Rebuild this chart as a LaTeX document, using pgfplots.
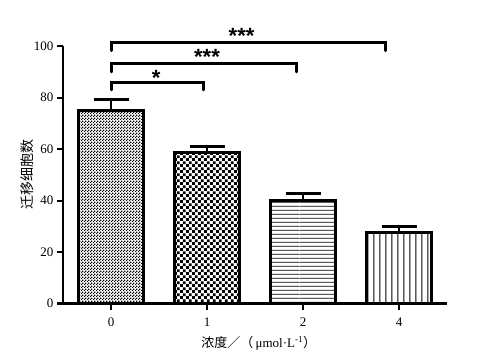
\documentclass[border=0pt]{standalone}
\usepackage{fontspec}
\setmainfont{Liberation Serif}
\newfontfamily\cjk{Noto Sans CJK SC}
\newfontfamily\starfont{Liberation Sans}
\usepackage{pgfplots}
\pgfplotsset{compat=1.18}
\usetikzlibrary{patterns}
\pgfdeclarepatternformonly{finecheck}{\pgfpointorigin}{\pgfpoint{3bp}{3bp}}{\pgfpoint{3bp}{3bp}}{%
  \pgfpathrectangle{\pgfpointorigin}{\pgfpoint{1.5bp}{1.5bp}}%
  \pgfpathrectangle{\pgfpoint{1.5bp}{1.5bp}}{\pgfpoint{1.5bp}{1.5bp}}%
  \pgfusepath{fill}}
\pgfdeclarepatternformonly{coarsecheck}{\pgfpointorigin}{\pgfpoint{5.8bp}{5.8bp}}{\pgfpoint{5.8bp}{5.8bp}}{%
  \pgfpathrectangle{\pgfpointorigin}{\pgfpoint{2.9bp}{2.9bp}}%
  \pgfpathrectangle{\pgfpoint{2.9bp}{2.9bp}}{\pgfpoint{2.9bp}{2.9bp}}%
  \pgfusepath{fill}}
\pgfdeclarepatternformonly{hlines}{\pgfpointorigin}{\pgfpoint{100bp}{4.3bp}}{\pgfpoint{100bp}{4.3bp}}{%
  \pgfsetlinewidth{0.9bp}%
  \pgfpathmoveto{\pgfpoint{0bp}{2bp}}\pgfpathlineto{\pgfpoint{100bp}{2bp}}%
  \pgfusepath{stroke}}
\pgfdeclarepatternformonly{vlines}{\pgfpointorigin}{\pgfpoint{5.8bp}{100bp}}{\pgfpoint{5.8bp}{100bp}}{%
  \pgfsetlinewidth{0.9bp}%
  \pgfpathmoveto{\pgfpoint{2.9bp}{0bp}}\pgfpathlineto{\pgfpoint{2.9bp}{100bp}}%
  \pgfusepath{stroke}}
\pgfplotsset{
  barerr/.style={
    ybar, bar width=65bp, bar shift=0pt,
    draw=black, line width=3bp,
    error bars/y dir=plus, error bars/y explicit,
    error bars/error bar style={line width=2.5bp, black},
    error bars/error mark options={line width=3bp, mark size=17.5bp, black, rotate=90}},
  bracket/.style={sharp plot, line width=3bp, black, no marks, line cap=round},
}
\begin{document}
\begin{tikzpicture}
\useasboundingbox (0,0) rectangle (487bp,363bp);
\begin{axis}[
  at={(63bp,59.5bp)}, anchor=south west,
  scale only axis, width=384bp, height=257.3bp,
  xmin=-0.5, xmax=3.5, ymin=0, ymax=100, clip=false,
  axis x line=bottom, axis y line=left,
  axis line style={-, line width=2.5bp, black},
  xtick={0,1,2,3}, xticklabels={0,1,2,4},
  ytick={0,20,40,60,80,100},
  xtick align=outside, ytick align=outside,
  major tick length=6bp,
  every tick/.style={line width=2bp, black},
  xtick style={line width=2bp, black},
  ytick style={line width=2bp, black},
  tick label style={font=\fontsize{13bp}{13bp}\selectfont},
  /pgf/number format/assume math mode=true,
  xticklabel style={yshift=-5bp},
  yticklabel style={xshift=0bp},
  xlabel={\cjk 浓度／（\,{\rmfamily μmol·L\textsuperscript{-1}}）},
  xlabel style={at={(axis description cs:0.51,-0.153)}, anchor=center, font=\fontsize{13bp}{13bp}\selectfont},
  ylabel={\cjk 迁移细胞数},
  ylabel style={at={(axis description cs:-0.094,0.5)}, anchor=center, font=\fontsize{14bp}{14bp}\selectfont},
]
\addplot[barerr, pattern=finecheck] coordinates {(0,75.2) +- (0,4.2)};
\addplot[barerr, pattern=coarsecheck] coordinates {(1,58.8) +- (0,2.4)};
\addplot[barerr, pattern=hlines] coordinates {(2,40.2) +- (0,2.6)};
\addplot[barerr, pattern=vlines] coordinates {(3,27.7) +- (0,2.4)};
% significance brackets
\addplot[bracket] coordinates {(0,83) (0,85.8) (0.96,85.8) (0.96,83)};
\addplot[bracket] coordinates {(0,90) (0,93.4) (1.93,93.4) (1.93,90)};
\addplot[bracket] coordinates {(0,98.3) (0,101.4) (2.86,101.4) (2.86,98.3)};
\node[anchor=base, font=\starfont\bfseries\fontsize{22bp}{22bp}\selectfont, inner sep=0pt] at (axis cs:0.47,84.9) {*};
\node[anchor=base, font=\starfont\bfseries\fontsize{22bp}{22bp}\selectfont, inner sep=0pt] at (axis cs:1.0,93.0) {***};
\node[anchor=base, font=\starfont\bfseries\fontsize{22bp}{22bp}\selectfont, inner sep=0pt] at (axis cs:1.36,101.2) {***};
\end{axis}
\end{tikzpicture}
\end{document}
